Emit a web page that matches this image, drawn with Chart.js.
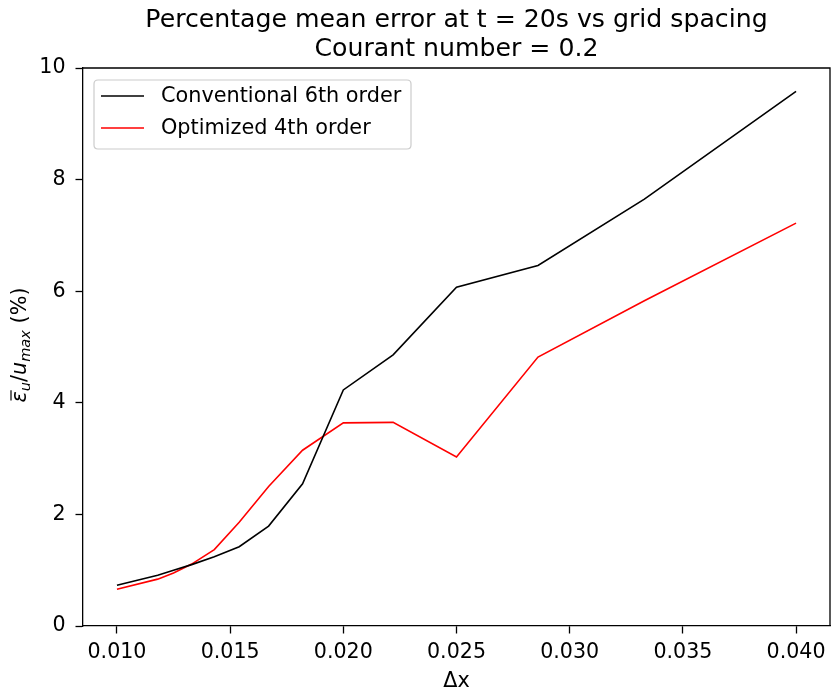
<!DOCTYPE html>
<html>
<head>
<meta charset="utf-8">
<script src="https://cdn.jsdelivr.net/npm/chart.js@4/dist/chart.umd.min.js"></script>
<style>
html,body{margin:0;padding:0;background:#fff;}
#wrap{width:831px;height:691px;position:relative;}
</style>
</head>
<body>
<div id="wrap"><canvas id="c" width="831" height="691"></canvas></div>
<script>
// Data
const dxValues = [0.0100, 0.0118, 0.0125, 0.0133, 0.0143, 0.0154, 0.0167, 0.0182, 0.0200, 0.0222, 0.0250, 0.0286, 0.0333, 0.0400];
const conventional6th = [0.73, 0.91, 1.00, 1.10, 1.24, 1.42, 1.79, 2.55, 4.23, 4.86, 6.07, 6.46, 7.65, 9.58];
const optimized4th   = [0.66, 0.84, 0.95, 1.11, 1.37, 1.86, 2.50, 3.15, 3.64, 3.65, 3.03, 4.82, 5.83, 7.22];
const xTickValues = [0.010, 0.015, 0.020, 0.025, 0.030, 0.035, 0.040];
const yTickValues = [0, 2, 4, 6, 8, 10];
const seriesNames = ['Conventional 6th order', 'Optimized 4th order'];
const titleLines = ['Percentage mean error at t = 20s vs grid spacing', 'Courant number = 0.2'];
const xLabel = 'Δx';

const FONT = '"DejaVu Sans", sans-serif';
const toPoints = (xs, ys) => xs.map((x, i) => ({x: x, y: ys[i]}));

const overlay = {
  id: 'overlay',
  afterDraw(chart) {
    const ctx = chart.ctx;
    const a = chart.chartArea;
    ctx.save();
    // top and right spines
    ctx.strokeStyle = '#000';
    ctx.lineWidth = 1.3;
    ctx.beginPath();
    ctx.moveTo(a.left, a.top);
    ctx.lineTo(a.right, a.top);
    ctx.lineTo(a.right, a.bottom);
    ctx.stroke();

    // title
    ctx.fillStyle = '#000';
    ctx.textAlign = 'center';
    ctx.textBaseline = 'alphabetic';
    ctx.font = '25.2px ' + FONT;
    const cx = (a.left + a.right) / 2;
    ctx.fillText(titleLines[0], cx, 27);
    ctx.fillText(titleLines[1], cx, 56);

    // x label
    ctx.font = '20.8px ' + FONT;
    ctx.fillText(xLabel, cx, 687);

    // y label (rotated, with subscripts)
    const parts = [
      {t: 'ε', f: 'italic 20.8px ' + FONT, dy: 0, bar: true},
      {t: 'u', f: 'italic 14.6px ' + FONT, dy: 4},
      {t: '/', f: '20.8px ' + FONT, dy: 0},
      {t: 'u', f: 'italic 20.8px ' + FONT, dy: 0},
      {t: 'max', f: 'italic 14.6px ' + FONT, dy: 4},
      {t: ' (%)', f: '20.8px ' + FONT, dy: 0}
    ];
    let total = 0;
    parts.forEach(p => { ctx.font = p.f; p.w = ctx.measureText(p.t).width; total += p.w; });
    ctx.translate(26, 345);
    ctx.rotate(-Math.PI / 2);
    ctx.textAlign = 'left';
    let px = -total / 2;
    parts.forEach(p => {
      ctx.font = p.f;
      ctx.fillText(p.t, px, p.dy);
      if (p.bar) {
        ctx.lineWidth = 1.2;
        ctx.beginPath();
        ctx.moveTo(px + 2, -15);
        ctx.lineTo(px + p.w + 1, -15);
        ctx.stroke();
      }
      px += p.w;
    });
    ctx.setTransform(1, 0, 0, 1, 0, 0);

    // legend
    const lx = 94, ly = 80, lw = 317, lh = 69, r = 4;
    ctx.fillStyle = 'rgba(255,255,255,0.8)';
    ctx.strokeStyle = '#cccccc';
    ctx.lineWidth = 1.2;
    ctx.beginPath();
    ctx.moveTo(lx + r, ly);
    ctx.lineTo(lx + lw - r, ly);
    ctx.quadraticCurveTo(lx + lw, ly, lx + lw, ly + r);
    ctx.lineTo(lx + lw, ly + lh - r);
    ctx.quadraticCurveTo(lx + lw, ly + lh, lx + lw - r, ly + lh);
    ctx.lineTo(lx + r, ly + lh);
    ctx.quadraticCurveTo(lx, ly + lh, lx, ly + lh - r);
    ctx.lineTo(lx, ly + r);
    ctx.quadraticCurveTo(lx, ly, lx + r, ly);
    ctx.closePath();
    ctx.fill();
    ctx.stroke();
    const rows = [96, 128];
    chart.data.datasets.forEach((ds, i) => {
      ctx.strokeStyle = ds.borderColor;
      ctx.lineWidth = ds.borderWidth;
      ctx.beginPath();
      ctx.moveTo(101, rows[i]);
      ctx.lineTo(144, rows[i]);
      ctx.stroke();
      ctx.fillStyle = '#000';
      ctx.font = '20.8px ' + FONT;
      ctx.textAlign = 'left';
      ctx.textBaseline = 'middle';
      ctx.fillText(ds.label, 161, rows[i] + 1);
    });
    ctx.restore();
  }
};

new Chart(document.getElementById('c'), {
  type: 'line',
  data: {
    datasets: [
      {label: seriesNames[0], data: toPoints(dxValues, conventional6th), borderColor: '#000000', borderWidth: 1.6, pointRadius: 0, tension: 0, fill: false},
      {label: seriesNames[1], data: toPoints(dxValues, optimized4th), borderColor: '#ff0000', borderWidth: 1.6, pointRadius: 0, tension: 0, fill: false}
    ]
  },
  options: {
    responsive: false,
    animation: false,
    devicePixelRatio: 1,
    layout: {padding: {top: 68, right: 1, left: 0, bottom: 0}},
    plugins: {legend: {display: false}, title: {display: false}, tooltip: {enabled: false}},
    scales: {
      x: {
        type: 'linear',
        min: 0.0085,
        max: 0.0415,
        afterBuildTicks: s => { s.ticks = xTickValues.map(v => ({value: v})); },
        afterFit: s => { s.height = 65; s.paddingLeft = 0; s.paddingRight = 0; },
        ticks: {color: '#000', font: {family: 'DejaVu Sans', size: 20.6}, padding: 7, maxRotation: 0, autoSkip: false,
          callback: v => v.toFixed(3)},
        grid: {display: true, drawOnChartArea: false, drawTicks: true, tickLength: 7.5, tickWidth: 1.3, tickColor: '#000'},
        border: {display: true, color: '#000', width: 1.3}
      },
      y: {
        type: 'linear',
        min: 0,
        max: 10,
        afterBuildTicks: s => { s.ticks = yTickValues.map(v => ({value: v})); },
        afterFit: s => { s.width = 83; s.paddingTop = 0; s.paddingBottom = 0; },
        ticks: {color: '#000', font: {family: 'DejaVu Sans', size: 20.6}, padding: 10, autoSkip: false,
          callback: v => String(v)},
        grid: {display: true, drawOnChartArea: false, drawTicks: true, tickLength: 7.5, tickWidth: 1.3, tickColor: '#000'},
        border: {display: true, color: '#000', width: 1.3}
      }
    }
  },
  plugins: [overlay]
});
</script>
</body>
</html>
